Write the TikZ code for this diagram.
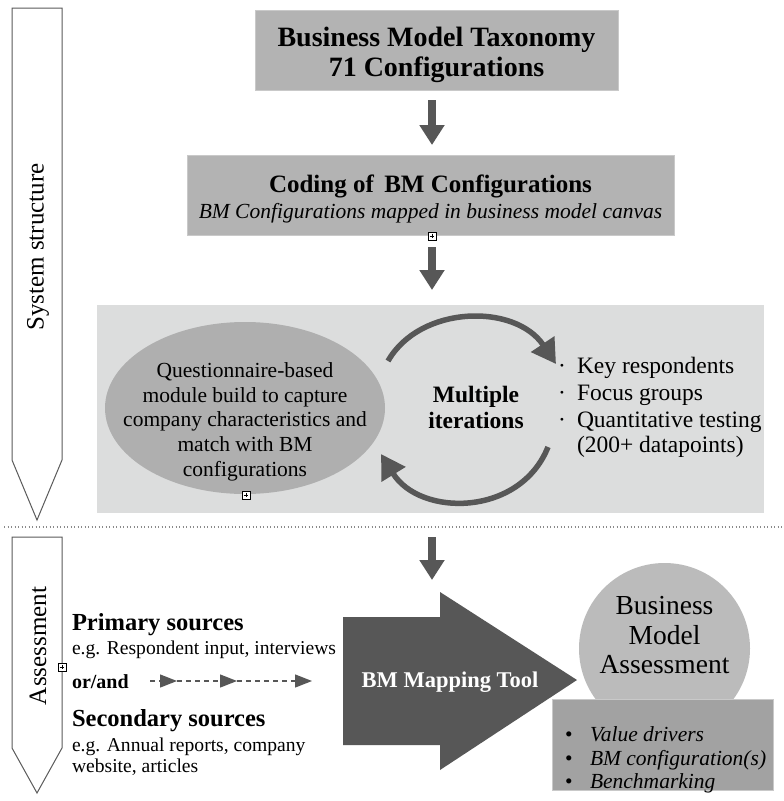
\documentclass[tikz,border=0pt]{standalone}
\usepackage{fontspec}
\setmainfont{Liberation Serif}
\usetikzlibrary{arrows.meta,shapes.geometric,calc}
\definecolor{dk}{HTML}{575757}
\definecolor{boxgray}{HTML}{B3B3B3}
\definecolor{boxedge}{HTML}{C9C9C9}
\definecolor{lightbg}{HTML}{DCDDDD}
\definecolor{ellgray}{HTML}{AFAFAF}
\definecolor{circgray}{HTML}{BBBBBB}
\definecolor{outgray}{HTML}{A2A2A2}
\definecolor{edgegray}{HTML}{5A5A5A}
\definecolor{dotgray}{HTML}{8A8A8A}
\begin{document}
\begin{tikzpicture}[x=1pt,y=-1pt,
  every node/.style={inner sep=0pt,outer sep=0pt,text=black},
  graybox/.style={draw=boxedge,fill=boxgray,line width=0.8pt},
  blockarrow/.style={draw=dk,line width=8pt,-{Triangle[length=20pt,width=24pt]}},
  iterarrow/.style={draw=dk,line width=5.5pt,-{Triangle[length=24pt,width=27pt]}},
  dashline/.style={draw=dk,line width=1.3pt,dash pattern=on 5pt off 4pt,-{Triangle[length=17pt,width=13pt]}},
  sidearrow/.style={draw=edgegray,fill=white,line width=1pt},
  plusbox/.style={draw=black,fill=white,line width=0.6pt,minimum size=8pt,
    path picture={\draw[line width=0.6pt,shorten <=1.6pt,shorten >=1.6pt]
      (path picture bounding box.north) -- (path picture bounding box.south);
      \draw[line width=0.6pt,shorten <=1.6pt,shorten >=1.6pt]
      (path picture bounding box.west) -- (path picture bounding box.east);}},
  titlefont/.style={font=\fontsize{28}{30}\selectfont\bfseries},
  codefont/.style={font=\fontsize{25}{25}\selectfont\bfseries},
  codeit/.style={font=\fontsize{21.5}{24}\selectfont\itshape},
  ellfont/.style={font=\fontsize{21.5}{25}\selectfont},
  listfont/.style={font=\fontsize{23.5}{26}\selectfont},
  boldbody/.style={font=\fontsize{23.5}{28}\selectfont\bfseries},
  srcbold/.style={font=\fontsize{24.5}{25}\selectfont\bfseries},
  srcfont/.style={font=\fontsize{19.6}{21}\selectfont},
  sidefont/.style={font=\fontsize{25}{25}\selectfont},
  circfont/.style={font=\fontsize{27.5}{30}\selectfont},
  outfont/.style={font=\fontsize{21.5}{24}\selectfont},
]
\useasboundingbox[fill=white] (0,0) rectangle (784,801);

% side arrows
\draw[sidearrow] (12,8) -- (62,8) -- (62,460) -- (37,520) -- (12,460) -- cycle;
\node[sidefont,rotate=90] (sys) at (38,247) {System structure};
\draw[sidearrow] (12,537) -- (62,537) -- (62,748) -- (37,793) -- (12,748) -- cycle;
\node[sidefont,rotate=90] (ass) at (38,646) {Assessment};

% dotted separator
\coordinate (dl) at (4,527);
\coordinate (dr) at (784,527);
\draw[dotgray,line width=1.3pt,dash pattern=on 1.3pt off 2.2pt] (dl) -- (dr);

\coordinate (ax) at (432,0);

% top box
\node[graybox,minimum width=363pt,minimum height=80pt] (tax) at (436.5,50) {};
\node[titlefont,anchor=base] (taxt1) at (436.5,46) {Business Model Taxonomy};
\node[titlefont,anchor=base] (taxt2) at (436.5,76) {71 Configurations};

% coding box
\node[graybox,minimum width=487pt,minimum height=80pt] (coding) at (430.5,195) {};
\node[codefont,anchor=base] (codt1) at (430.5,192) {Coding of\, BM Configurations};
\node[codeit,anchor=base] (codt2) at (430.5,218) {BM Configurations mapped in business model canvas};
\node[plusbox] (plus1) at (432,236) {};

\draw[blockarrow,shorten <=10pt,shorten >=10pt] (tax.south -| ax) -- (coding.north -| ax);

% iteration box
\node[fill=lightbg,minimum width=667pt,minimum height=208pt] (iter) at (430,409) {};
\draw[blockarrow,shorten <=12pt,shorten >=15pt] (coding.south -| ax) -- (iter.north -| ax);

\node[ellipse,fill=ellgray,minimum width=280pt,minimum height=172pt] (quest) at (245,408) {};
\node[ellfont,anchor=base] (q1) at (245,377) {Questionnaire-based};
\node[ellfont,anchor=base] (q2) at (245,402) {module build to capture};
\node[ellfont,anchor=base] (q3) at (245,426) {company characteristics and};
\node[ellfont,anchor=base] (q4) at (245,451) {match with BM};
\node[ellfont,anchor=base] (q5) at (245,476) {configurations};
\node[plusbox] (plus2) at (246,495) {};

\node[boldbody,anchor=base] (mult1) at (476,402) {Multiple};
\node[boldbody,anchor=base] (mult2) at (476,428) {iterations};

\node[listfont,anchor=base] (d1x) at (562,373) {\textperiodcentered};
\node[listfont,anchor=base] (d2x) at (562,400) {\textperiodcentered};
\node[listfont,anchor=base] (d3x) at (562,427) {\textperiodcentered};
\node[listfont,anchor=base west] (b1) at (577,373) {Key respondents};
\node[listfont,anchor=base west] (b2) at (577,400) {Focus groups};
\node[listfont,anchor=base west] (b3) at (577,427) {Quantitative testing};
\node[listfont,anchor=base west] (b4) at (577,452) {(200+ datapoints)};

\coordinate (arcA) at (388,361);
\coordinate (arcB) at (556,364);
\coordinate (arcC) at (548,447);
\coordinate (arcD) at (381,454);
\draw[iterarrow] (arcA) .. controls (420,305) and (515,303) .. (arcB);
\draw[iterarrow] (arcC) .. controls (520,517) and (420,517) .. (arcD);

% mapping tool
\coordinate (maptop) at (432,580);
\draw[blockarrow,shorten <=24pt] (iter.south -| ax) -- (maptop);
\fill[dk] (343,617) -- (440,617) -- (440,592) -- (577,680) -- (440,770) -- (440,745) -- (343,745) -- cycle;
\node[font=\fontsize{22.5}{25}\selectfont\bfseries,text=white,anchor=base] (map) at (450,687) {BM Mapping Tool};

% sources
\node[srcbold,anchor=base west] (prim) at (72,630) {Primary sources};
\node[srcfont,anchor=base west] (primt) at (72,654) {e.g. Respondent input, interviews};
\node[plusbox] (plus3) at (62,667) {};
\node[font=\fontsize{20}{21}\selectfont\bfseries,anchor=base west] (orand) at (72,688) {or/and};
\node[srcbold,anchor=base west] (sec) at (72,726) {Secondary sources};
\node[srcfont,anchor=base west] (sect) at (72,751) {e.g. Annual reports, company};
\node[srcfont,anchor=base west] (sect2) at (72,772) {website, articles};

\coordinate (d0) at (150,681);
\coordinate (d1) at (177,681);
\coordinate (d2) at (237,681);
\coordinate (d3) at (312,681);
\draw[dashline] (d0) -- (d1);
\draw[dashline] (d1) -- (d2);
\draw[dashline] (d2) -- (d3);

% assessment
\node[circle,fill=circgray,minimum size=171pt] (bma) at (664.5,648.5) {};
\node[circfont,anchor=base] (bmat1) at (664.5,614) {Business};
\node[circfont,anchor=base] (bmat2) at (664.5,644) {Model};
\node[circfont,anchor=base] (bmat3) at (664.5,673) {Assessment};

\node[draw=boxedge,fill=outgray,line width=0.8pt,minimum width=221pt,minimum height=91pt] (outbox) at (662.5,744.5) {};
\node[outfont,anchor=base] (ob1) at (569,741) {\textbullet};
\node[outfont,anchor=base] (ob2) at (569,765) {\textbullet};
\node[outfont,anchor=base] (ob3) at (569,788) {\textbullet};
\node[outfont,anchor=base west] (o1) at (590,741) {\itshape Value drivers};
\node[outfont,anchor=base west] (o2) at (590,765) {\itshape BM configuration(s)};
\node[outfont,anchor=base west] (o3) at (590,788) {\itshape Benchmarking};
\end{tikzpicture}
\end{document}
